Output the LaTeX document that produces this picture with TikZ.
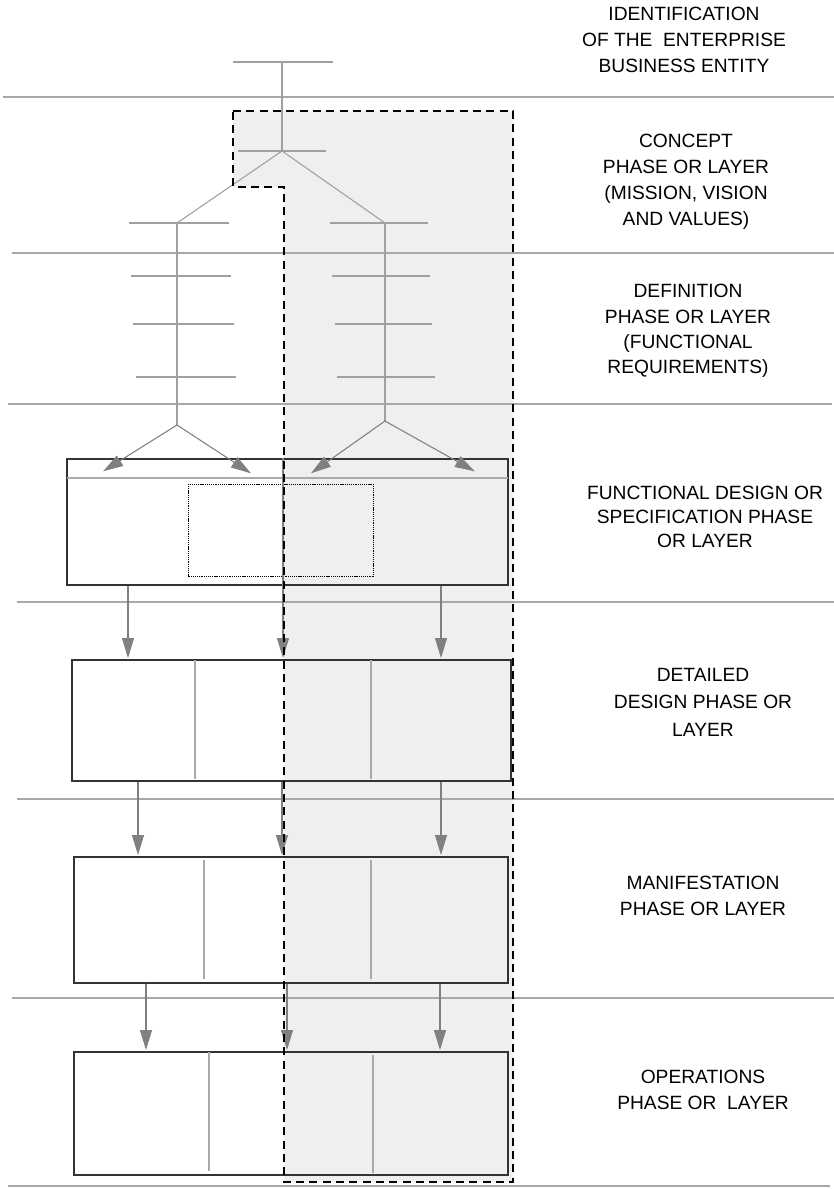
\documentclass[tikz,border=0pt]{standalone}
\usepackage{fontspec}
\setmainfont{Liberation Sans}
\usetikzlibrary{arrows.meta,fit}
\definecolor{sepgray}{HTML}{A8A8A8}
\definecolor{treegray}{HTML}{A0A0A0}
\definecolor{arrgray}{HTML}{808080}
\definecolor{zonefill}{HTML}{EFEFEF}
\definecolor{boxline}{HTML}{333333}
\definecolor{divgray}{HTML}{AAAAAA}
\begin{document}
\begin{tikzpicture}[x=0.75pt,y=-0.75pt,
  sep/.style={draw=sepgray,line width=1.1pt},
  treeline/.style={draw=treegray,line width=0.8pt},
  flow/.style={draw=arrgray,line width=0.8pt,
    -{Triangle[length=15pt,width=9pt]},shorten >=1pt},
  layerbox/.style={draw=boxline,line width=1pt,inner sep=0pt},
  divider/.style={draw=divgray,line width=0.8pt},
  zone/.style={draw=black,line width=1.5pt,dash pattern=on 6pt off 4pt},
  lbl/.style={align=center,font=\fontsize{14.4}{#1}\selectfont,inner sep=0pt},
  lbl/.default=20pt]

\useasboundingbox (0,0) rectangle (834,1189);

% shaded zone behind everything
\fill[zonefill] (233,111) -- (513,111) -- (513,1182) -- (284,1182)
  -- (284,187) -- (233,187) -- cycle;

% layer separators
\draw[sep] (3,97) -- (834,97);
\draw[sep] (12,253) -- (834,253);
\draw[sep] (8,404) -- (832,404);
\draw[sep] (17,602) -- (834,602);
\draw[sep] (17,799) -- (834,799);
\draw[sep] (12,998) -- (834,998);
\draw[sep] (8,1186) -- (830,1186);

% layer labels
\node[lbl=19.5pt] (lid)  at (684,40)   {IDENTIFICATION\\OF THE\ \ ENTERPRISE\\BUSINESS ENTITY};
\node[lbl=19.5pt] (lcon) at (686,182)  {CONCEPT\\PHASE OR LAYER\\(MISSION, VISION\\AND VALUES)};
\node[lbl=19pt]   (ldef) at (688,331)  {DEFINITION\\PHASE OR LAYER\\(FUNCTIONAL\\REQUIREMENTS)};
\node[lbl=17.8pt] (lfd)  at (705,517)  {FUNCTIONAL DESIGN OR\\SPECIFICATION PHASE\\OR LAYER};
\node[lbl=20.6pt] (ldd)  at (703,702)  {DETAILED\\DESIGN PHASE OR\\LAYER};
\node[lbl=20pt]   (lman) at (703,896)  {MANIFESTATION\\PHASE OR LAYER};
\node[lbl=20pt]   (lops) at (703,1090) {OPERATIONS\\PHASE OR\ \ LAYER};

% entity tree: junctions
\coordinate (top) at (282,62);
\coordinate (apex) at (282,151);
\coordinate (lj) at (177,223);
\coordinate (rj) at (385,223);
\coordinate (lb) at (177,425);
\coordinate (rb) at (385,421);
\draw[treeline] (233,62) -- (333,62);
\draw[treeline] (238,151) -- (326,151);
\draw[treeline] (top) -- (apex);
\draw[treeline] (apex) -- (lj);
\draw[treeline] (apex) -- (rj);
\draw[treeline] (lj) -- (lb);
\draw[treeline] (rj) -- (rb);
\draw[treeline] (129,223) -- (229,223);
\draw[treeline] (330,223) -- (428,223);
\draw[treeline] (131,276) -- (231,276);
\draw[treeline] (332,276) -- (430,276);
\draw[treeline] (133,324) -- (234,324);
\draw[treeline] (335,324) -- (432,324);
\draw[treeline] (136,377) -- (236,377);
\draw[treeline] (337,377) -- (435,377);

% layer boxes
\node[layerbox,fit={(67,459)(508,585)}] (fd) {};
\node[layerbox,fit={(72,660)(511,781)}] (dd) {};
\node[layerbox,fit={(74,857)(508,983)}] (man) {};
\node[layerbox,fit={(74,1052)(508,1175)}] (ops) {};

% box interiors
\draw[divgray,line width=1.4pt] (67,478) -- (508,478);
\draw[black,line width=0.6pt,dash pattern=on 0.8pt off 0.6pt] (188,484) rectangle (373,576);
\draw[divider] (195,660) -- (195,779);
\draw[divider] (371,660) -- (371,779);
\draw[divider] (204,860) -- (204,979);
\draw[divider] (371,860) -- (371,979);
\draw[divider] (209,1052) -- (209,1171);
\draw[divider] (373,1055) -- (373,1173);

% tree branches into the functional design box
\coordinate (la1) at (102,472);
\coordinate (la2) at (252,474);
\coordinate (ra1) at (310,474);
\coordinate (ra2) at (476,472);
\draw[flow] (lb) -- (la1);
\draw[flow] (lb) -- (la2);
\draw[flow] (rb) -- (ra1);
\draw[flow] (rb) -- (ra2);

% downward flows between layers
\coordinate (c11) at (128,0);
\coordinate (c12) at (283,0);
\coordinate (c13) at (441,0);
\coordinate (c21) at (138,0);
\coordinate (c22) at (282,0);
\coordinate (c23) at (441,0);
\coordinate (c31) at (146,0);
\coordinate (c32) at (287,0);
\coordinate (c33) at (440,0);
\draw[flow] (fd.south -| c11) -- (dd.north -| c11);
\draw[flow] (fd.north -| c12) -- (dd.north -| c12);
\draw[flow] (fd.south -| c13) -- (dd.north -| c13);
\draw[flow] (dd.south -| c21) -- (man.north -| c21);
\draw[flow] (dd.south -| c22) -- (man.north -| c22);
\draw[flow] (dd.south -| c23) -- (man.north -| c23);
\draw[flow] (man.south -| c31) -- (ops.north -| c31);
\draw[flow] (man.south -| c32) -- (ops.north -| c32);
\draw[flow] (man.south -| c33) -- (ops.north -| c33);

% dashed zone outline
\draw[zone] (233,111) -- (513,111) -- (513,1182) -- (284,1182)
  -- (284,187) -- (233,187) -- cycle;
\end{tikzpicture}
\end{document}
